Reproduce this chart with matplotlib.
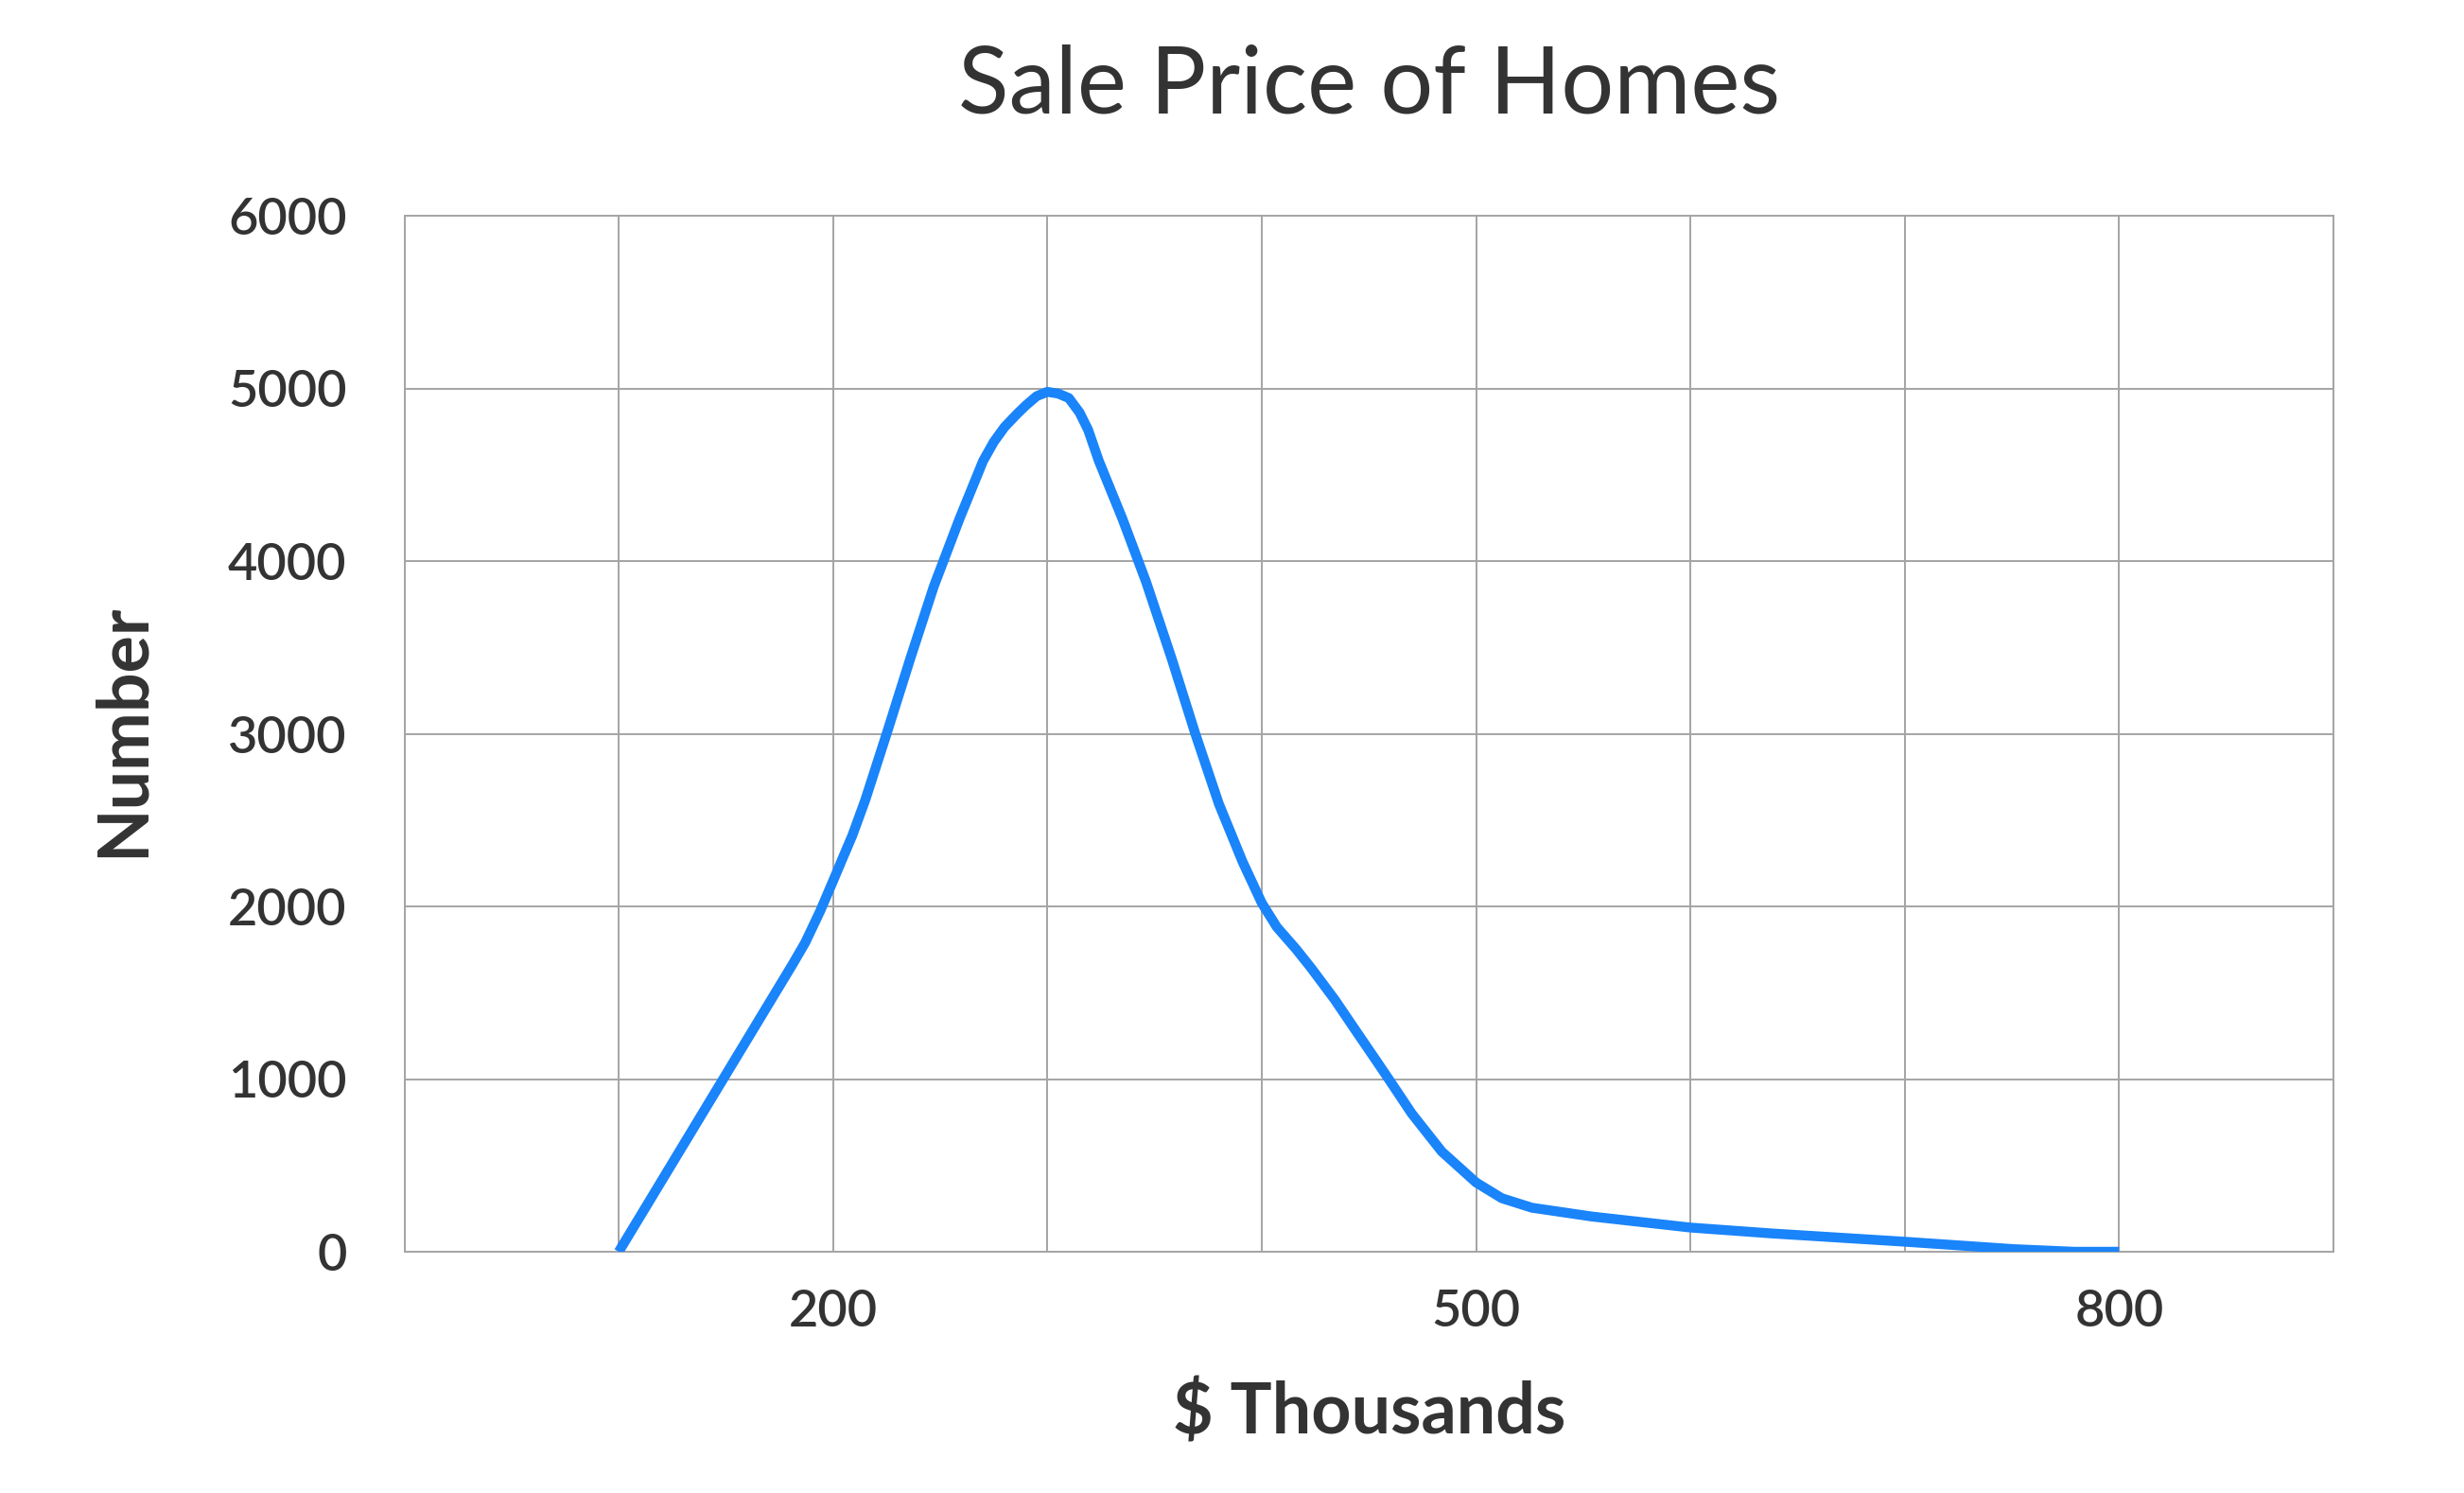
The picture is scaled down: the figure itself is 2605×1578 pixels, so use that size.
import matplotlib
matplotlib.use("Agg")
import matplotlib.pyplot as plt
from matplotlib.ticker import MultipleLocator, FixedLocator

plt.rcParams['font.family'] = ['Lato', 'DejaVu Sans']

# ---- data ----
title = "Sale Price of Homes"
x_label = "$ Thousands"
y_label = "Number"
price = [100, 181, 187, 194, 200, 204, 209, 215, 225, 236, 247, 259, 270, 275,
         280, 286, 290, 295, 300, 305, 310, 315, 319, 324, 335, 346, 358, 369,
         380, 391, 400, 407, 416, 423, 434, 444, 454, 460, 470, 484, 500, 512,
         526, 554, 600, 638, 700, 751, 779, 800]
count = [0, 1662, 1790, 1973, 2147, 2265, 2411, 2615, 3000, 3434, 3853, 4245,
         4580, 4690, 4776, 4854, 4902, 4955, 4980, 4970, 4944, 4860, 4760, 4580,
         4245, 3881, 3434, 3000, 2594, 2260, 2020, 1881, 1753, 1644, 1461, 1278,
         1096, 986, 800, 580, 401, 310, 255, 204, 140, 106, 58, 15, 0, 0]
x_ticks = [200, 500, 800]
y_ticks = [0, 1000, 2000, 3000, 4000, 5000, 6000]

W, H = 2605, 1578
DPI = 100
fig = plt.figure(figsize=(W / DPI, H / DPI), dpi=DPI)
fig.patch.set_facecolor('white')

left, right = 427.5 / W, 2467 / W
top, bottom = 1 - 228 / H, 1 - 1323 / H
ax = fig.add_axes([left, bottom, right - left, top - bottom])

grid_c = '#a4a4a4'
text_c = '#333333'

ax.plot(price, count, color='#1a84fa', lw=7.5, solid_capstyle='butt',
        solid_joinstyle='round', zorder=3)

ax.set_xlim(0, 900)
ax.set_ylim(0, 6000)
ax.xaxis.set_major_locator(FixedLocator(x_ticks))
ax.xaxis.set_minor_locator(MultipleLocator(100))
ax.yaxis.set_major_locator(FixedLocator(y_ticks))
ax.grid(True, which='both', axis='x', color=grid_c, lw=1.4, zorder=1)
ax.grid(True, which='major', axis='y', color=grid_c, lw=1.4, zorder=1)
ax.tick_params(axis='both', which='both', length=0)
ax.tick_params(axis='x', pad=28, labelsize=39, labelcolor=text_c)
ax.tick_params(axis='y', pad=44, labelsize=39, labelcolor=text_c)
for lab in ax.get_xticklabels() + ax.get_yticklabels():
    lab.set_fontweight('semibold')
for s in ax.spines.values():
    s.set_color(grid_c)
    s.set_linewidth(1.4)

cx = (427.5 + 2467) / 2 / W
fig.text(cx, 1 - 120 / H, title, ha='center', va='baseline',
         fontsize=71, color=text_c, fontweight='normal')
fig.text(cx, 1 - 1515.7 / H, x_label, ha='center', va='baseline',
         fontsize=53, color=text_c, fontweight='bold')
fig.text(152 / W, 1 - 771.5 / H, y_label, ha='center', va='baseline',
         rotation=90, rotation_mode='anchor',
         fontsize=53, color=text_c, fontweight='bold')

fig.savefig('out.png', dpi=DPI, facecolor='white')
